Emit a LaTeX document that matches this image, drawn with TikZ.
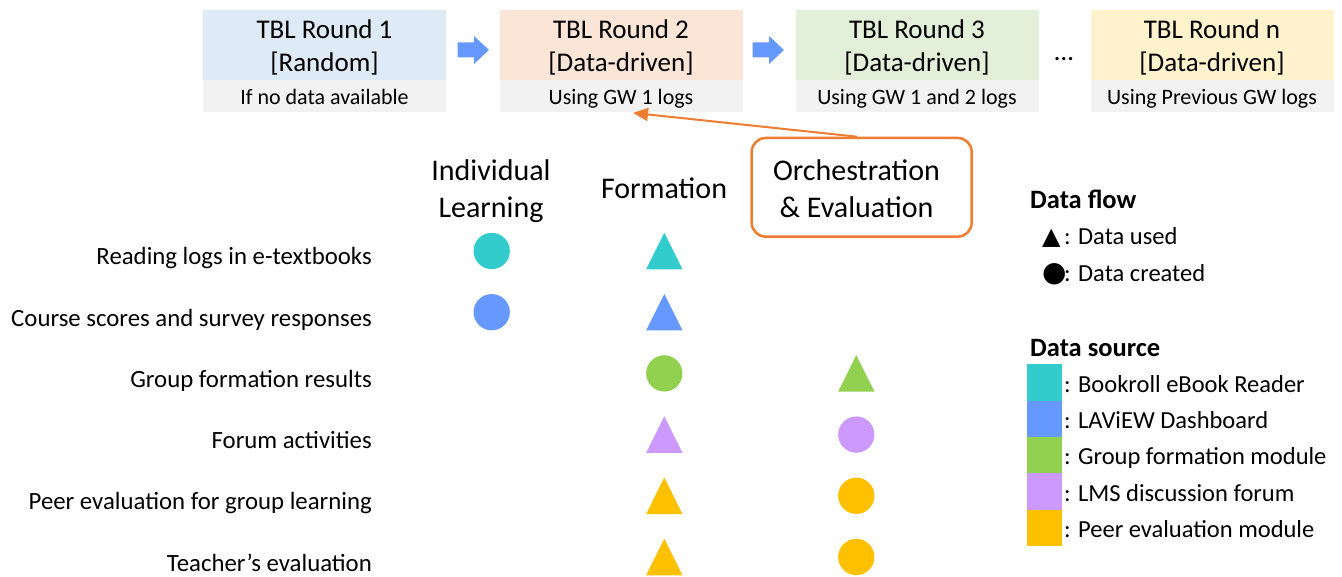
\documentclass[tikz,border=0pt]{standalone}
\usepackage{fontspec}
\setmainfont{Carlito}
\newfontfamily\symfont{DejaVu Sans}
\usetikzlibrary{arrows.meta,calc}
\definecolor{rA}{HTML}{DEEBF7}
\definecolor{rB}{HTML}{FBE5D6}
\definecolor{rC}{HTML}{E2F0D9}
\definecolor{rD}{HTML}{FFF2CC}
\definecolor{stripgray}{HTML}{F2F2F2}
\definecolor{arrowblue}{HTML}{6699FF}
\definecolor{cteal}{HTML}{33CCCC}
\definecolor{cblue}{HTML}{6699FF}
\definecolor{cgreen}{HTML}{92D050}
\definecolor{cpurple}{HTML}{CC99FF}
\definecolor{cyellow}{HTML}{FFC000}
\definecolor{corange}{HTML}{ED7D31}
\tikzset{
  roundtop/.style={minimum width=243pt,minimum height=70pt,inner sep=0pt},
  roundtitle/.style={align=center,inner sep=0pt,font=\fontsize{27}{33}\selectfont},
  roundstrip/.style={fill=stripgray,minimum width=243pt,minimum height=31.7pt,inner sep=0pt,text height=16.5pt,text depth=0pt,font=\fontsize{22}{26}\selectfont},
  flowarrow/.pic={\fill[arrowblue] (-15.6,-7.5) -- (0.7,-7.5) -- (0.7,-14) -- (15.7,0) -- (0.7,14) -- (0.7,7.5) -- (-15.6,7.5) -- cycle;},
  tri/.pic={\fill[#1] (-18.2,18.3) -- (0,-18.3) -- (18.2,18.3) -- cycle;},
  dot/.style={circle,minimum size=36.3pt,inner sep=0pt,draw=none},
  header/.style={align=center,font=\fontsize{30}{37}\selectfont,inner sep=0pt},
  rowlab/.style={anchor=base east,inner sep=0pt,font=\fontsize{24.8}{29}\selectfont},
  legtitle/.style={anchor=base west,inner sep=0pt,font=\fontsize{26.5}{31}\selectfont\bfseries},
  legtext/.style={anchor=base west,inner sep=0pt,font=\fontsize{24.5}{29}\selectfont},
  swatch/.style={minimum width=35pt,minimum height=36.4pt,inner sep=0pt,draw=none},
  orchbox/.style={draw=corange,line width=2.5pt,rounded corners=14pt,minimum width=220pt,minimum height=98.7pt,inner sep=0pt},
  feedback/.style={draw=corange,line width=2pt,-{Triangle[length=15pt,width=13pt]}}
}
\begin{document}
\begin{tikzpicture}[x=1pt,y=-1pt]
\useasboundingbox (0,0) rectangle (1342,577);
% TBL rounds
\node[roundtop,fill=rA] (r1) at (324.5,45) {};
\node[roundtitle] (r1t) at (324.5,47) {TBL Round 1\\{}[Random]};
\node[roundstrip] (r1s) at (324.5,95.85) {If no data available};
\node[roundtop,fill=rB] (r2) at (621,45) {};
\node[roundtitle] (r2t) at (621,47) {TBL Round 2\\{}[Data-driven]};
\node[roundstrip] (r2s) at (621,95.85) {Using GW 1 logs};
\node[roundtop,fill=rC] (r3) at (917,45) {};
\node[roundtitle] (r3t) at (917,47) {TBL Round 3\\{}[Data-driven]};
\node[roundstrip] (r3s) at (917,95.85) {Using GW 1 and 2 logs};
\node[roundtop,fill=rD] (rn) at (1212,45) {};
\node[roundtitle] (rnt) at (1212,47) {TBL Round n\\{}[Data-driven]};
\node[roundstrip] (rns) at (1212,95.85) {Using Previous GW logs};
\pic at (473.3,50) {flowarrow};
\pic at (768.3,50) {flowarrow};
\node[anchor=base,inner sep=0pt,font=\fontsize{27}{33}\selectfont] (dots) at (1064,61) {…};
% column headers
\node[header] (hind) at (491,191) {Individual\\Learning};
\node[header,anchor=base] (hform) at (664,198.7) {Formation};
\node[orchbox] (orch) at (861.7,187.3) {};
\node[header] (horch) at (856.5,188.5) {Orchestration\\\& Evaluation};
\draw[feedback] ($(orch.north)+(-4.7,0)$) -- ($(r2s.south)+(12,1)$);
% row labels
\node[rowlab] (l1) at (372,265) {Reading logs in e-textbooks};
\node[rowlab] (l2) at (372,326.2) {Course scores and survey responses};
\node[rowlab] (l3) at (372,387.4) {Group formation results};
\node[rowlab] (l4) at (372,448.6) {Forum activities};
\node[rowlab] (l5) at (372,509.8) {Peer evaluation for group learning};
\node[rowlab] (l6) at (372,571) {Teacher’s evaluation};
% symbols
\node[dot,fill=cteal] (i1) at (491.7,251) {};
\node[dot,fill=cblue] (i2) at (491.7,312.2) {};
\pic at (664.3,251) {tri=cteal};
\pic at (664.3,312.2) {tri=cblue};
\node[dot,fill=cgreen] (f3) at (664.3,373.4) {};
\pic at (664.3,434.6) {tri=cpurple};
\pic at (664.3,495.8) {tri=cyellow};
\pic at (664.3,557) {tri=cyellow};
\pic at (856.3,373.4) {tri=cgreen};
\node[dot,fill=cpurple] (o4) at (856.3,434.6) {};
\node[dot,fill=cyellow] (o5) at (856.3,495.8) {};
\node[dot,fill=cyellow] (o6) at (856.3,557) {};
% legend
\node[legtitle] (lgflow) at (1030,208.7) {Data flow};
\node[legtext] (lgused) at (1042,245) {\makebox[22pt][l]{\symfont\fontsize{24}{28}\selectfont ▲}: Data used};
\node[legtext] (lgcreated) at (1042,282) {\makebox[22pt][l]{\symfont\fontsize{28}{32}\selectfont ●}: Data created};
\node[legtitle] (lgsource) at (1030,357) {Data source};
\node[swatch,fill=cteal] (sw1) at (1044.8,382.5) {};
\node[swatch,fill=cblue] (sw2) at (1044.8,418.8) {};
\node[swatch,fill=cgreen] (sw3) at (1044.8,455.2) {};
\node[swatch,fill=cpurple] (sw4) at (1044.8,491.5) {};
\node[swatch,fill=cyellow] (sw5) at (1044.8,527.8) {};
\node[legtext] (lt1) at (1064,392) {: Bookroll eBook Reader};
\node[legtext] (lt2) at (1064,428.3) {: LAViEW Dashboard};
\node[legtext] (lt3) at (1064,464.7) {: Group formation module};
\node[legtext] (lt4) at (1064,501) {: LMS discussion forum};
\node[legtext] (lt5) at (1064,537.3) {: Peer evaluation module};
\end{tikzpicture}
\end{document}
